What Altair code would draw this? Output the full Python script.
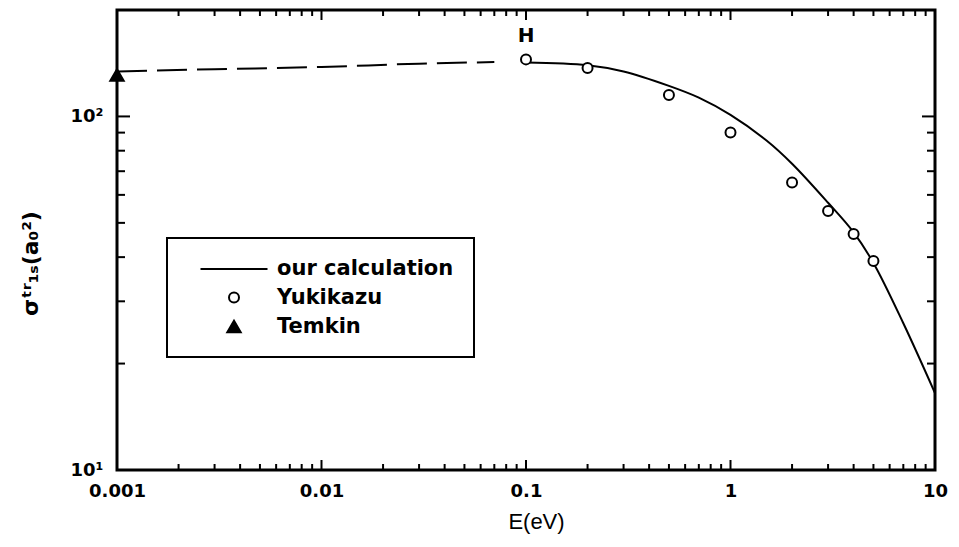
import altair as alt
import pandas as pd

# Calculated transport cross section (solid part) and its low-energy extension (dashed)
calc_E = [0.1, 0.2, 0.3, 0.5, 0.7, 1, 1.5, 2, 3, 4, 5, 7, 10]
calc_S = [142, 139.5, 134, 122, 113, 101, 85.5, 73.5, 57, 47, 38.5, 26, 16.5]
ext_E = [0.001, 0.003, 0.01, 0.03, 0.07]
ext_S = [134, 136, 138, 141, 142.5]

# Reference data
yuki_E = [0.1, 0.2, 0.5, 1, 2, 3, 4, 5]
yuki_S = [145, 137, 115, 90, 65, 54, 46.5, 39]
temkin_E = [0.001]
temkin_S = [131]

series_names = ["our calculation", "Yukikazu", "Temkin"]
x_ticks = [0.001, 0.01, 0.1, 1, 10]
y_ticks = [10, 100]
x_minor = [m * 10.0 ** e for e in range(-3, 1) for m in range(2, 10)]
y_minor = [20, 30, 40, 50, 60, 70, 80, 90]

W, H = 818, 460
FONT = "Liberation Sans"
BOLD = "DejaVu Sans"

xs = alt.Scale(type="log", domain=[0.001, 10], nice=False)
ys = alt.Scale(type="log", domain=[10, 200], nice=False)

calc = pd.DataFrame({"E": calc_E, "S": calc_S})
ext = pd.DataFrame({"E": ext_E, "S": ext_S})
pts = pd.DataFrame({
    "E": yuki_E + temkin_E,
    "S": yuki_S + temkin_S,
    "series": ["Yukikazu"] * len(yuki_E) + ["Temkin"] * len(temkin_E),
})

x_enc = alt.X(
    "E:Q", scale=xs,
    axis=alt.Axis(values=x_ticks, format=".3~f", title="E(eV)", grid=False,
                  domain=False, ticks=False, labelFlush=False, labelFont=BOLD,
                  labelFontSize=18, labelFontWeight="bold", labelPadding=12,
                  labelColor="black", titleFont=FONT, titleFontSize=22,
                  titleFontWeight="normal", titleColor="black", titleX=419,
                  titleY=51, titleBaseline="middle"),
)
y_enc = alt.Y(
    "S:Q", scale=ys,
    axis=alt.Axis(values=y_ticks, labelExpr="datum.value == 10 ? '10¹' : '10²'",
                  title="σᵗʳ₁ₛ(a₀²)", grid=False, domain=False, ticks=False,
                  labelFlush=False, labelFont=BOLD, labelFontSize=18,
                  labelFontWeight="bold", labelPadding=14, labelColor="black",
                  titleFont=BOLD, titleFontSize=22, titleFontWeight="bold",
                  titleColor="black", titleX=-87, titleY=253, titleAlign="center",
                  titleBaseline="middle", titleAngle=-90),
)

solid = alt.Chart(calc).mark_line(color="black", strokeWidth=2,
                                  interpolate="catmull-rom").encode(x=x_enc, y=y_enc)
dashed = alt.Chart(ext).mark_line(color="black", strokeWidth=2, strokeDash=[30, 10],
                                  interpolate="monotone").encode(x="E:Q", y="S:Q")

legend = alt.Legend(title=None, orient="none", legendX=50, legendY=228,
                    strokeColor="black", fillColor="white", padding=20,
                    labelFont=BOLD, labelFontSize=21, labelFontWeight="bold",
                    labelColor="black", labelLimit=400, labelOffset=32,
                    symbolOffset=36, rowPadding=7, symbolStrokeWidth=2)

# a long horizontal stroke stands for the calculated curve in the key
line_glyph = "M-3.35,0H3.35"

points = alt.Chart(pts).mark_point(filled=False, strokeWidth=2, opacity=1).encode(
    x="E:Q", y="S:Q",
    shape=alt.Shape("series:N", scale=alt.Scale(domain=series_names,
                    range=[line_glyph, "circle", "triangle-up"]), legend=legend),
    fill=alt.Fill("series:N", scale=alt.Scale(domain=series_names,
                  range=["transparent", "white", "black"]), legend=legend),
    stroke=alt.Stroke("series:N", scale=alt.Scale(domain=series_names,
                      range=["black", "black", "black"]), legend=legend),
    size=alt.Size("series:N", scale=alt.Scale(type="ordinal", domain=series_names,
                  range=[400, 100, 180]), legend=legend),
)

label_h = alt.Chart(pd.DataFrame({"E": [yuki_E[0]], "S": [yuki_S[0]], "t": ["H"]})).mark_text(
    font=BOLD, fontSize=20, fontWeight="bold", color="black", dy=-23
).encode(x="E:Q", y="S:Q", text="t:N")

# inward tick marks on all four sides
xmaj = pd.DataFrame({"E": x_ticks})
xmin = pd.DataFrame({"E": x_minor})
ymaj = pd.DataFrame({"S": y_ticks})
ymin = pd.DataFrame({"S": y_minor})

def xtick(df, length):
    bottom = alt.Chart(df).mark_rule(color="black", strokeWidth=2).encode(
        x="E:Q", y=alt.value(H), y2=alt.value(H - length))
    top = alt.Chart(df).mark_rule(color="black", strokeWidth=2).encode(
        x="E:Q", y=alt.value(0), y2=alt.value(length))
    return bottom + top

def ytick(df, length):
    left = alt.Chart(df).mark_rule(color="black", strokeWidth=2).encode(
        y="S:Q", x=alt.value(0), x2=alt.value(length))
    right = alt.Chart(df).mark_rule(color="black", strokeWidth=2).encode(
        y="S:Q", x=alt.value(W), x2=alt.value(W - length))
    return left + right

chart = alt.layer(
    solid, dashed,
    xtick(xmaj, 10), xtick(xmin, 6), ytick(ymaj, 13), ytick(ymin, 8),
    points, label_h,
).properties(
    width=W, height=H,
    padding={"left": 117, "top": 10, "right": 24, "bottom": 77},
    autosize=alt.AutoSizeParams(type="none"),
    background="white",
).configure_view(stroke="black", strokeWidth=3).configure_legend(strokeWidth=2)

chart.save("out.html", embed_options={"renderer": "svg", "actions": False})
